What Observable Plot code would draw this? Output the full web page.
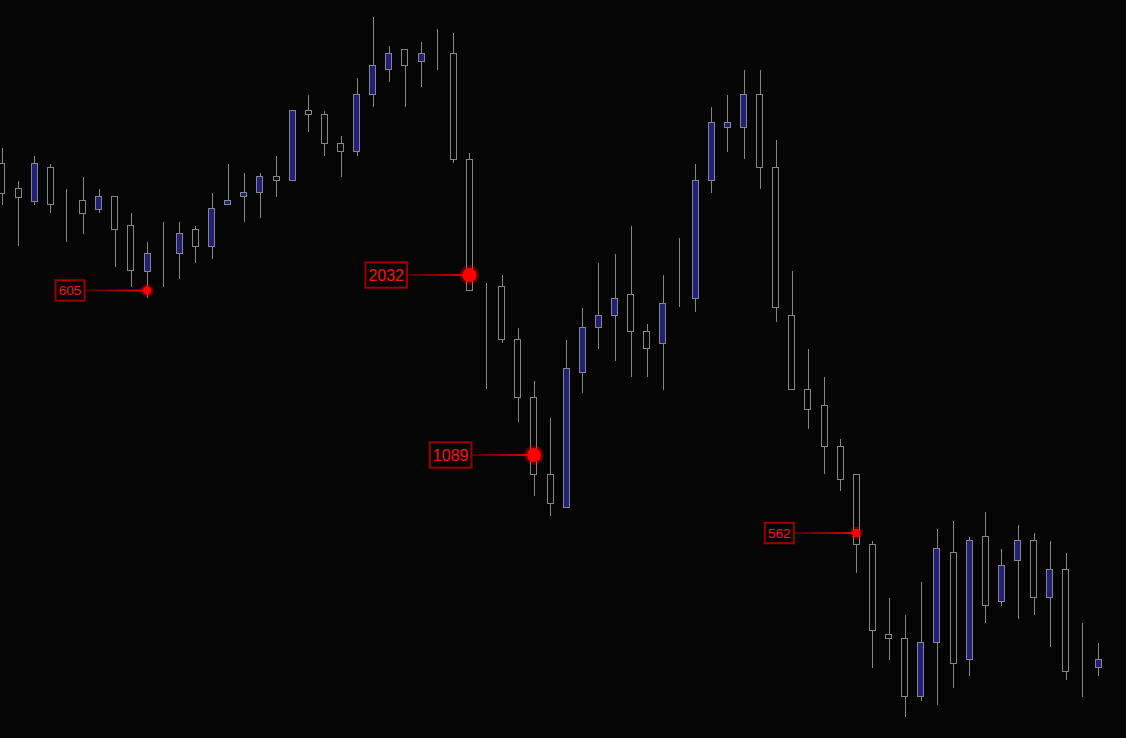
<!DOCTYPE html>
<html><head><meta charset="utf-8">
<script src="https://cdn.jsdelivr.net/npm/d3@7"></script>
<script src="https://cdn.jsdelivr.net/npm/@observablehq/plot@0.6"></script>
<style>html,body{margin:0;padding:0;background:#050505;overflow:hidden}svg{display:block}</style>
</head><body><div id="chart"></div>
<script>
// OHLC prices (arbitrary price units)
const open  = [575,550,537,571,534,538,529,542,513,467, 480,485,509,492,534,542,546,562,558,628, 624,595,587,644,669,689,677,689,685,579, 452,452,399,341,264,231,366,411,423,444, 407,395,435,440,558,611,611,644,571,423, 349,333,292,264,194,104,100,42,96,186, 79,202,137,178,198,141,169,67,71];
const high  = [590,557,582,574,549,561,549,542,525,496, 516,516,512,545,574,565,565,582,628,643, 627,602,660,721,692,689,696,709,705,585, 455,463,410,357,320,398,430,475,484,512, 414,463,500,574,631,643,668,668,598,467, 389,361,299,264,197,140,123,156,209,217, 201,226,189,213,205,197,185,115,95];
const low   = [533,492,533,525,496,504,525,471,451,440, 451,459,475,479,534,516,520,541,558,606, 582,561,582,631,656,631,651,668,575,448, 349,395,316,242,222,231,345,389,377,361, 361,348,431,426,545,586,579,549,416,349, 309,264,247,165,70,78,21,37,33,50, 62,115,132,119,123,91,58,41,62];
const close = [545,541,575,534,534,525,542,509,468,485, 480,505,492,530,538,546,562,558,628,624, 595,587,644,673,685,673,685,689,579,448, 452,399,341,264,235,370,411,423,440,407, 390,435,435,558,616,616,644,571,431,349, 329,292,259,194,108,100,42,96,190,75, 198,133,173,198,141,169,67,67,79];

// annotated points
const markerBar   = [9, 29, 33, 53];
const markerPrice = [447.5, 463, 283, 205];
const markerLabel = ["605", "2032", "1089", "562"];

const n = open.length;
const candles = d3.range(n).map(i => ({i, o: open[i], h: high[i], l: low[i], c: close[i]}));

const BG = "#050505", EDGE = "#858585", BULL = "#20207a";

const chart = Plot.plot({
  width: 1126, height: 738, margin: 0,
  style: {background: BG},
  x: {type: "band", domain: d3.range(n), range: [-6.06, 1106.2], paddingInner: 0.628, paddingOuter: 0.314, align: 0.5, round: false, axis: null},
  y: {domain: [0, 738], axis: null},
  marks: [
    Plot.ruleX(candles, {x: "i", y1: "l", y2: "h", stroke: EDGE, strokeWidth: 1, shapeRendering: "crispEdges"}),
    Plot.barY(candles, {x: "i", y1: "o", y2: "c", fill: d => d.c > d.o ? BULL : BG, stroke: EDGE, strokeWidth: 1, shapeRendering: "crispEdges"})
  ]
});
document.getElementById("chart").appendChild(chart);

// annotations placed through the plot's own scales
const sx = chart.scale("x"), sy = chart.scale("y");
const half = sx.bandwidth / 2;
const svg = d3.select(chart);
const defs = svg.append("defs");
const grad = defs.append("linearGradient").attr("id", "lineGrad").attr("x1", 0).attr("x2", 1).attr("y1", 0).attr("y2", 0);
grad.append("stop").attr("offset", "0%").attr("stop-color", "#4a0000");
grad.append("stop").attr("offset", "100%").attr("stop-color", "#e80000");
const g = svg.append("g");
markerBar.forEach((bar, k) => {
  const label = markerLabel[k];
  const big = +label >= 1000;
  const px = sx.apply(bar) + half;
  const py = sy.apply(markerPrice[k]);
  const fs = big ? 16 : 13.5;
  const boxH = big ? 25.3 : 20.4;
  const gap = 61.5;
  g.append("rect").attr("x", px - gap).attr("y", py - 1).attr("width", gap).attr("height", 2).attr("fill", "url(#lineGrad)");
  const box = g.append("rect").attr("fill", BG).attr("stroke", "#9a0000").attr("stroke-width", 2);
  const t = g.append("text").text(label)
    .attr("font-family", "'Liberation Sans',Arial,sans-serif")
    .attr("font-size", fs).attr("fill", "#ff1010").attr("text-anchor", "middle").attr("dy", "0.36em");
  const w = t.node().getComputedTextLength() + (big ? 6 : 6.5);
  const bx = px - gap - 1 - w;
  box.attr("x", bx).attr("y", py - boxH / 2).attr("width", w).attr("height", boxH);
  t.attr("x", bx + w / 2).attr("y", py);
  g.append("circle").attr("cx", px).attr("cy", py).attr("r", big ? 9.8 : 6.5).attr("fill", "#ff0000").attr("fill-opacity", 0.33);
  g.append("circle").attr("cx", px).attr("cy", py).attr("r", big ? 7 : 4.2).attr("fill", "#ff0000");
});
</script>
</body></html>
